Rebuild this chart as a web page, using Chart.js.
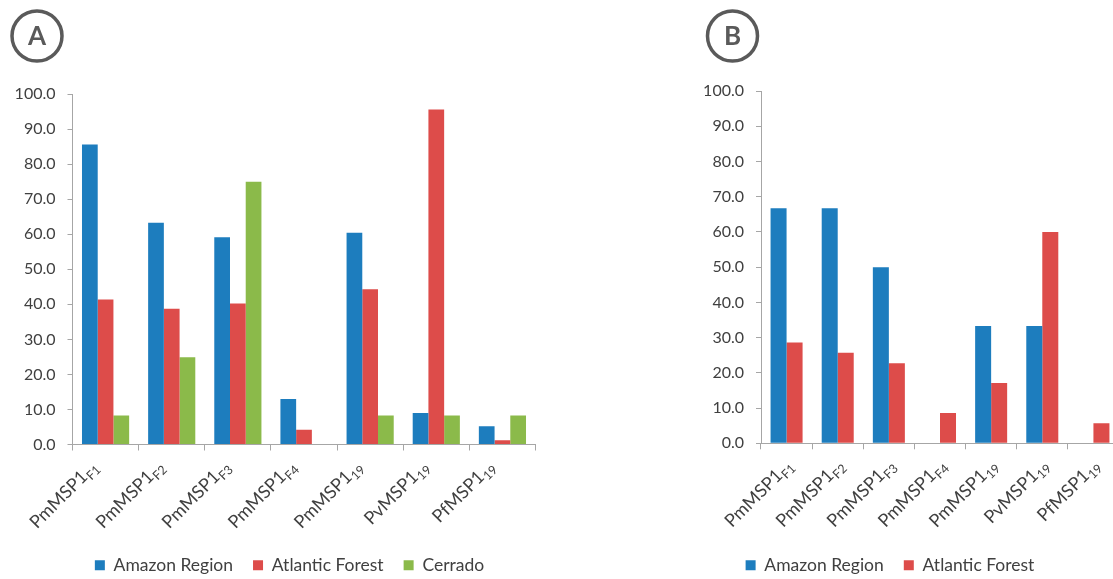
<!DOCTYPE html>
<html>
<head>
<meta charset="utf-8">
<script src="https://cdn.jsdelivr.net/npm/chart.js@4.4.0/dist/chart.umd.min.js"></script>
<style>
  html, body { margin: 0; padding: 0; background: #fff; overflow: hidden; }
  #wrap { position: relative; width: 1113px; height: 579px; overflow: hidden; background: #fff; }
  .panel { position: absolute; top: 0; }
  #panelA { left: 0; }
  #panelB { left: 655px; }
</style>
</head>
<body>
<div id="wrap">
  <div class="panel" id="panelA"><canvas id="chartA" width="579" height="579"></canvas></div>
  <div class="panel" id="panelB"><canvas id="chartB" width="469" height="579"></canvas></div>
</div>
<script>
// Antigen names: main part and subscript
const tickMain = ['PmMSP1', 'PmMSP1', 'PmMSP1', 'PmMSP1', 'PmMSP1', 'PvMSP1', 'PfMSP1'];
const tickSub  = ['F1', 'F2', 'F3', 'F4', '19', '19', '19'];
const categories = tickMain.map((m, i) => m + tickSub[i]);

// Panel A: seropositivity (%) by region
const amazonA   = [85.6, 63.3, 59.1, 13.0, 60.4, 9.0, 5.2];
const atlanticA = [41.4, 38.7, 40.2, 4.2, 44.3, 95.6, 1.2];
const cerradoA  = [8.3, 24.9, 75.0, 0, 8.3, 8.3, 8.3];

// Panel B: seropositivity (%) by region
const amazonB   = [66.7, 66.7, 50.0, 0, 33.3, 33.3, 0];
const atlanticB = [28.6, 25.7, 22.7, 8.6, 17.1, 60.0, 5.7];

const yTicks = [0, 10, 20, 30, 40, 50, 60, 70, 80, 90, 100];

const COLORS = { amazon: '#1d7dbe', atlantic: '#dd4c4a', cerrado: '#8bba4a' };
const AXIS = '#a6a6a6';
const TEXT = '#404040';
const FONT = 'Lato';

// Circled panel letter
const badgePlugin = {
  id: 'panelBadge',
  afterDraw(chart, args, opts) {
    const ctx = chart.ctx;
    ctx.save();
    ctx.beginPath();
    ctx.arc(opts.x, opts.y, opts.r, 0, Math.PI * 2);
    ctx.lineWidth = 3.5;
    ctx.strokeStyle = '#5a5a5a';
    ctx.stroke();
    ctx.font = 'bold 26px ' + FONT;
    ctx.fillStyle = '#5a5a5a';
    ctx.textAlign = 'center';
    ctx.textBaseline = 'middle';
    ctx.fillText(opts.letter, opts.x, opts.y + 1);
    ctx.restore();
  }
};

// Moves the legend row sideways so it is centred under the whole panel
const legendShiftPlugin = {
  id: 'legendShift',
  afterLayout(chart, args, opts) {
    const lg = chart.legend;
    if (lg && opts.shift) {
      lg.left += opts.shift;
      lg.right += opts.shift;
    }
  }
};

// Rotated category labels with subscripts
const subLabelPlugin = {
  id: 'subLabels',
  afterDraw(chart, args, opts) {
    const xs = chart.scales.x;
    const ctx = chart.ctx;
    ctx.save();
    ctx.fillStyle = TEXT;
    ctx.textBaseline = 'alphabetic';
    ctx.textAlign = 'left';
    tickMain.forEach((m, i) => {
      const cx = xs.getPixelForValue(i);
      ctx.save();
      ctx.translate(cx + opts.dx, xs.top + opts.dy);
      ctx.rotate(-Math.PI / 4);
      ctx.font = '18px ' + FONT;
      const wm = ctx.measureText(m).width;
      ctx.font = '12.5px ' + FONT;
      const ws = ctx.measureText(tickSub[i]).width;
      ctx.font = '18px ' + FONT;
      ctx.fillText(m, -(wm + ws), 6);
      ctx.font = '12.5px ' + FONT;
      ctx.fillText(tickSub[i], -ws, 10);
      ctx.restore();
    });
    ctx.restore();
  }
};

function buildChart(canvasId, datasets, cfg) {
  return new Chart(document.getElementById(canvasId), {
    type: 'bar',
    data: { labels: categories, datasets },
    options: {
      responsive: false,
      animation: false,
      devicePixelRatio: 1,
      layout: { padding: { top: cfg.top, right: cfg.right, left: 0, bottom: 0 } },
      datasets: { bar: { categoryPercentage: cfg.group, barPercentage: 1.0, borderWidth: 0 } },
      scales: {
        x: {
          type: 'category',
          offset: true,
          grid: { offset: true, drawOnChartArea: false, drawTicks: true, tickLength: 6, color: AXIS, lineWidth: 1 },
          border: { color: AXIS, width: 1 },
          ticks: { display: false },
          afterFit(s) { s.height = cfg.xHeight; }
        },
        y: {
          min: 0,
          max: 100,
          afterBuildTicks(s) { s.ticks = yTicks.map(v => ({ value: v })); },
          grid: { drawOnChartArea: false, drawTicks: true, tickLength: 5, color: AXIS, lineWidth: 1 },
          border: { color: AXIS, width: 1 },
          ticks: {
            padding: 12,
            color: TEXT,
            font: { family: FONT, size: 16 },
            callback: v => Number(v).toFixed(1)
          },
          afterFit(s) { s.width = cfg.yWidth; }
        }
      },
      plugins: {
        tooltip: { enabled: false },
        legend: {
          position: 'bottom',
          align: 'center',
          maxHeight: 42.5,
          labels: {
            boxWidth: 10,
            boxHeight: 10,
            padding: 20,
            color: TEXT,
            font: { family: FONT, size: 17.5 }
          }
        },
        legendShift: { shift: cfg.legendShift },
        panelBadge: cfg.badge,
        subLabels: cfg.labels
      }
    },
    plugins: [badgePlugin, subLabelPlugin, legendShiftPlugin]
  });
}

function draw() {
  buildChart('chartA', [
    { label: 'Amazon Region', data: amazonA, backgroundColor: COLORS.amazon },
    { label: 'Atlantic Forest', data: atlanticA, backgroundColor: COLORS.atlantic },
    { label: 'Cerrado', data: cerradoA, backgroundColor: COLORS.cerrado }
  ], { top: 94, right: 43.5, yWidth: 72.5, xHeight: 92, group: 0.713, legendShift: 21.75,
       badge: { x: 37, y: 36, r: 25, letter: 'A' },
       labels: { dx: -11, dy: 19 } });

  buildChart('chartB', [
    { label: 'Amazon Region', data: amazonB, backgroundColor: COLORS.amazon },
    { label: 'Atlantic Forest', data: atlanticB, backgroundColor: COLORS.atlantic }
  ], { top: 91, right: 5, yWidth: 106, xHeight: 93.2, group: 0.626, legendShift: 3,
       badge: { x: 77.5, y: 36, r: 25, letter: 'B' },
       labels: { dx: 3, dy: 19 } });
}

Promise.all([
  document.fonts.load('17px Lato'),
  document.fonts.load('bold 26px Lato')
]).then(draw, draw);
</script>
</body>
</html>
